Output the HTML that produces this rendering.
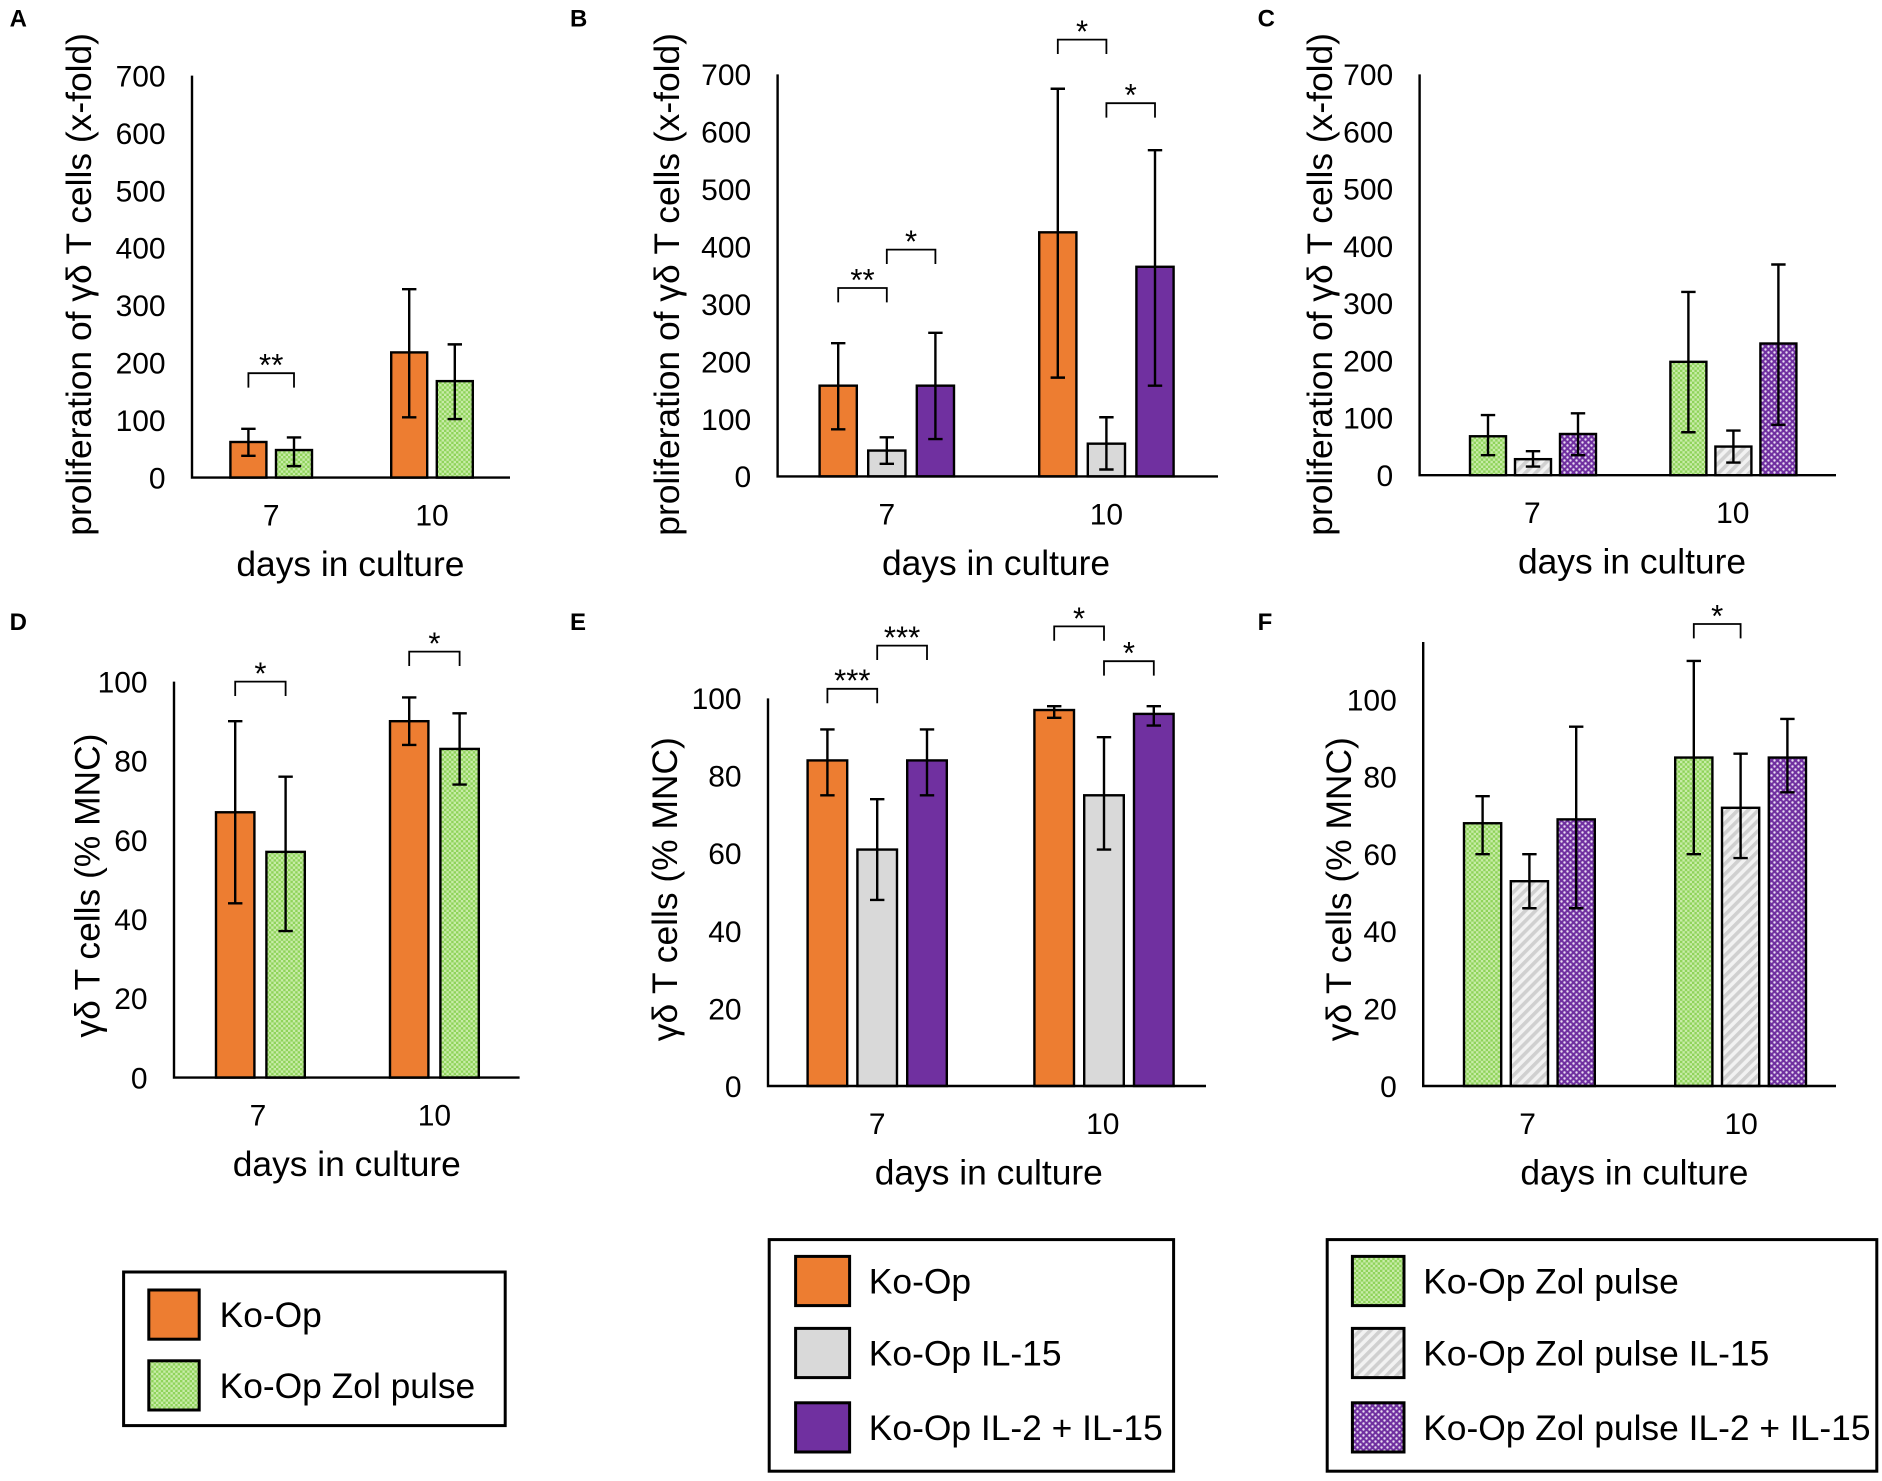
<!DOCTYPE html>
<html><head><meta charset="utf-8"><style>
html,body{margin:0;padding:0;background:#fff}
svg{display:block;font-family:"Liberation Sans",Arial,sans-serif}
</style></head><body>
<svg id="fig" width="1882" height="1481" viewBox="0 0 1568.33 1234.17" xmlns="http://www.w3.org/2000/svg">
<defs>
<pattern id="pGreen" width="4" height="4" patternUnits="userSpaceOnUse"><rect width="4" height="4" fill="#c8eca8"/><rect width="2" height="2" fill="#8fd35a"/><rect x="2" y="2" width="2" height="2" fill="#8fd35a"/></pattern>
<pattern id="pGray" width="6" height="6" patternUnits="userSpaceOnUse" patternTransform="rotate(45)"><rect width="6" height="6" fill="#f2f2f2"/><rect width="3" height="6" fill="#d0d0d0"/></pattern>
<pattern id="pPurple" width="5" height="5" patternUnits="userSpaceOnUse"><rect width="5" height="5" fill="#7030a0"/><circle cx="1.25" cy="1.25" r="1" fill="#e8dcf2"/><circle cx="3.75" cy="3.75" r="1" fill="#e8dcf2"/></pattern>
</defs>
</svg>
<script>
// ---- data ----
const categories = ["7","10"];
const aValues = [[62,48],[218,168]];
const aErrHi = [[85,70],[328,232]];
const aErrLo = [[38,20],[105,102]];
const bValues = [[158,45,158],[425,57,365]];
const bErrHi = [[232,68,250],[675,103,568]];
const bErrLo = [[82,22,65],[172,12,158]];
const cValues = [[68,28,72],[198,50,230]];
const cErrHi = [[105,42,108],[320,78,368]];
const cErrLo = [[35,15,35],[75,22,88]];
const dValues = [[67,57],[90,83]];
const dErrHi = [[90,76],[96,92]];
const dErrLo = [[44,37],[84,74]];
const eValues = [[84,61,84],[97,75,96]];
const eErrHi = [[92,74,92],[98,90,98]];
const eErrLo = [[75,48,75],[95,61,93]];
const fValues = [[68,53,69],[85,72,85]];
const fErrHi = [[75,60,93],[110,86,95]];
const fErrLo = [[60,46,46],[60,59,76]];
const ticksProlif = [0,100,200,300,400,500,600,700];
const ticksPct = [0,20,40,60,80,100];

const NS="http://www.w3.org/2000/svg";
const svg=document.getElementById('fig');
function mk(tag,attrs,parent){const e=document.createElementNS(NS,tag);for(const k in attrs)e.setAttribute(k,attrs[k]);(parent||svg).appendChild(e);return e;}
function txt(s,attrs,parent){const e=mk('text',attrs,parent);e.textContent=s;return e;}

const FILL={orange:'#ed7d31',gray:'#d9d9d9',purple:'#7030a0',green:'url(#pGreen)',stripe:'url(#pGray)',dots:'url(#pPurple)'};

function panel(p){
  const g=mk('g',{});
  
  
  const y=v=>p.y0-(v/p.ymax)*(p.y0-p.ymaxPx);
  const lbl=txt(p.id,{x:p.lx,y:p.ly,'font-size':20,'font-weight':'bold'},g);
  
  
  p.ticks.forEach(t=>{const e=txt(String(t),{x:p.ax-22,y:y(t)+9,'font-size':25,'text-anchor':'end'},g);
    });
  p.values.forEach((grp,ci)=>{grp.forEach((v,si)=>{
    const x0=p.barX[ci]+si*p.step;
    const r=mk('rect',{x:x0,y:y(v),width:p.bw,height:p.y0-y(v),fill:FILL[p.fills[si]],stroke:'#000','stroke-width':2},g);
    
    
    const cx=x0+p.bw/2, hi=y(p.hi[ci][si]), lo=y(p.lo[ci][si]);
    const eb=mk('path',{d:`M${cx},${hi}V${lo}M${cx-6},${hi}H${cx+6}M${cx-6},${lo}H${cx+6}`,stroke:'#000','stroke-width':2,fill:'none'},g);
    
    
  });});
  const ax=mk('path',{d:`M${p.ax},${p.axTop}V${p.y0}H${p.axRight}`,stroke:'#000','stroke-width':2,fill:'none'},g);
  
  categories.forEach((c,ci)=>{const e=txt(c,{x:p.catX[ci],y:p.y0+40,'font-size':25,'text-anchor':'middle'},g);
    });
  const xt=txt('days in culture',{x:p.xtX,y:p.y0+82,'font-size':29.5,'text-anchor':'middle'},g);
  
  const yt=txt(p.ytitle,{x:0,y:0,'font-size':29.5,'text-anchor':'middle',transform:`translate(${p.ytX},${p.ytY}) rotate(-90)`},g);
  
  p.sig.forEach(s=>{
    const x1=p.barX[s[0]]+s[1]*p.step+p.bw/2, x2=p.barX[s[0]]+s[2]*p.step+p.bw/2;
    const b=mk('path',{d:`M${x1},${s[3]+12}V${s[3]}H${x2}V${s[3]+12}`,stroke:'#000','stroke-width':1.5,fill:'none'},g);
    
    const t=txt(s[4],{x:(x1+x2)/2,y:s[3]+2,'font-size':26,'text-anchor':'middle'},g);
    
  });
}
const prolifTitle='proliferation of γδ T cells (x-fold)';
const pctTitle='γδ T cells (% MNC)';
panel({id:'A',lx:8,ly:22,ax:160,axTop:63,axRight:425,y0:398,ymaxPx:63,ymax:700,ticks:ticksProlif,values:aValues,hi:aErrHi,lo:aErrLo,
  barX:[192,326],step:38,bw:30,fills:['orange','green'],catX:[226,360],xtX:292,ytitle:prolifTitle,ytX:76,ytY:237,
  sig:[[0,0,1,311,'**']]});
panel({id:'B',lx:475,ly:22,ax:648,axTop:62,axRight:1015,y0:397,ymaxPx:62,ymax:700,ticks:ticksProlif,values:bValues,hi:bErrHi,lo:bErrLo,
  barX:[683,866],step:40.5,bw:31,fills:['orange','gray','purple'],catX:[739,922],xtX:830,ytitle:prolifTitle,ytX:566,ytY:237,
  sig:[[0,0,1,240,'**'],[0,1,2,208,'*'],[1,0,1,33,'*'],[1,1,2,86,'*']]});
panel({id:'C',lx:1048,ly:22,ax:1183,axTop:62,axRight:1530,y0:396,ymaxPx:62,ymax:700,ticks:ticksProlif,values:cValues,hi:cErrHi,lo:cErrLo,
  barX:[1225,1392],step:37.5,bw:30,fills:['green','stripe','dots'],catX:[1277,1444],xtX:1360,ytitle:prolifTitle,ytX:1110,ytY:237,
  sig:[]});
panel({id:'D',lx:8,ly:525,ax:145,axTop:568,axRight:433,y0:898,ymaxPx:568,ymax:100,ticks:ticksPct,values:dValues,hi:dErrHi,lo:dErrLo,
  barX:[180,325],step:42,bw:32,fills:['orange','green'],catX:[215,362],xtX:289,ytitle:pctTitle,ytX:83,ytY:738,
  sig:[[0,0,1,568,'*'],[1,0,1,543,'*']]});
panel({id:'E',lx:475,ly:525,ax:640,axTop:582,axRight:1005,y0:905,ymaxPx:582,ymax:100,ticks:ticksPct,values:eValues,hi:eErrHi,lo:eErrLo,
  barX:[673,862],step:41.5,bw:33,fills:['orange','gray','purple'],catX:[731,919],xtX:824,ytitle:pctTitle,ytX:564,ytY:741,
  sig:[[0,0,1,574,'***'],[0,1,2,538,'***'],[1,0,1,522,'*'],[1,1,2,551,'*']]});
panel({id:'F',lx:1048,ly:525,ax:1186,axTop:535,axRight:1530,y0:905,ymaxPx:583,ymax:100,ticks:ticksPct,values:fValues,hi:fErrHi,lo:fErrLo,
  barX:[1220,1396],step:39,bw:31,fills:['green','stripe','dots'],catX:[1273,1451],xtX:1362,ytitle:pctTitle,ytX:1126,ytY:741,
  sig:[[1,0,1,520,'*']]});

function legend(box,sw,tx,rows,items,name){
  const g=mk('g',{});
  
  
  mk('rect',{x:box[0],y:box[1],width:box[2],height:box[3],fill:'#fff',stroke:'#000','stroke-width':2.5},g);
  items.forEach((it,i)=>{
    const r=mk('rect',{x:sw[0],y:rows[i],width:sw[1],height:41,fill:FILL[it[0]],stroke:'#000','stroke-width':2.5},g);
    
    const t=txt(it[1],{x:tx,y:rows[i]+31,'font-size':29.5},g);
    
  });
}
legend([103,1060,318,128],[124,42],183,[1075,1134],[['orange','Ko-Op'],['green','Ko-Op Zol pulse']],'legend-left');
legend([641,1033,337,193],[663,45],724,[1047,1107,1169],[['orange','Ko-Op'],['gray','Ko-Op IL-15'],['purple','Ko-Op IL-2 + IL-15']],'legend-middle');
legend([1106,1033,458,193],[1127,43],1186,[1047,1107,1169],[['green','Ko-Op Zol pulse'],['stripe','Ko-Op Zol pulse IL-15'],['dots','Ko-Op Zol pulse IL-2 + IL-15']],'legend-right');
</script>
</body></html>
